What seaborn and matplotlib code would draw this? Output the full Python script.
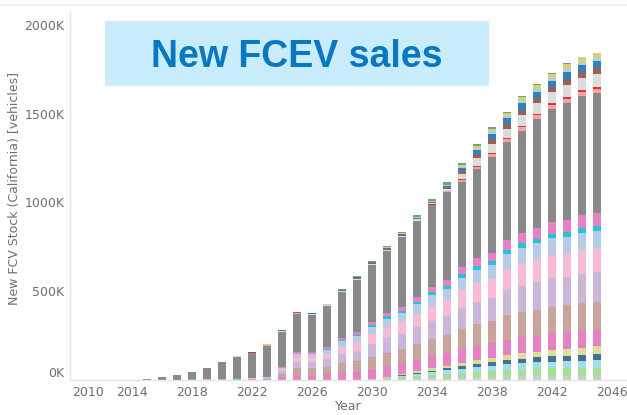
import numpy as np
import pandas as pd
import matplotlib
matplotlib.use("Agg")
import matplotlib.pyplot as plt
from matplotlib.patches import Rectangle
from matplotlib.ticker import FuncFormatter
import seaborn as sns

# Data (thousand vehicles), years 2010-2045, stack order bottom -> top
years = list(range(2010, 2046))

z5, z6, z20 = [0] * 5, [0] * 6, [0] * 20

lgray_bot = z20 + [3, 5, 7, 9, 11, 13, 15, 17, 19, 21, 22, 23, 24, 25, 25, 26]
lgreen = z20 + [3, 6, 9, 13, 17, 21, 25, 29, 32, 35, 37, 39, 41, 42, 43, 44]
lteal = z20 + [0, 4, 8, 12, 16, 20, 24, 27, 30, 33, 35, 37, 38, 39, 40, 41]
navy = z20 + [0, 0, 3, 6, 9, 12, 15, 18, 21, 24, 26, 28, 30, 31, 32, 33]
lolive = z20 + [2, 4, 6, 9, 12, 15, 18, 21, 24, 27, 30, 33, 36, 39, 42, 45]

magenta = z5 + [.2, .3, .6, .8, 1.3, 1.8, 2.3, 3, 4, 16, 30, 30, 34, 42, 46, 53, 58, 60, 65, 70,
                72, 78, 82, 82, 88, 90, 91, 93, 93, 94, 95]
brownpink = z5 + [.1, .2, .4, .6, 1, 1.4, 1.8, 2.5, 3.5, 16, 35, 35, 41, 52, 59, 69, 77, 81, 89, 97,
                  101, 113, 120, 123, 136, 142, 146, 151, 152, 156, 157]
lavender = z5 + [.1, .2, .4, .6, 1, 1.4, 1.8, 2.5, 3.5, 16, 35, 35, 41, 52, 60, 71, 80, 84, 93, 102,
                 107, 119, 127, 130, 143, 150, 154, 159, 160, 164, 165]
pink = z5 + [.1, .2, .3, .5, .8, 1.2, 1.5, 2, 3, 12, 27, 27, 33, 42, 49, 58, 66, 70, 77, 85,
             89, 100, 107, 110, 121, 126, 130, 134, 135, 139, 140]
lblue = z5 + [0, .1, .2, .3, .5, .7, 1, 1.2, 2, 8, 18, 18, 22, 29, 34, 41, 46, 49, 55, 60,
              63, 70, 74, 76, 83, 87, 89, 92, 92, 94, 95]
teal = z5 + [0, 0, .1, .1, .2, .2, .3, .4, .5, 2, 4, 4, 5, 7, 8, 10, 12, 12, 14, 16,
             17, 19, 21, 22, 24, 25, 26, 27, 27, 28, 28]
magenta2 = z5 + [0, 0, 0, .1, .2, .3, .3, .4, .5, 3, 8, 8, 9, 12, 14, 16, 19, 21, 24, 28,
                 32, 39, 43, 45, 52, 56, 58, 63, 64, 70, 70]

gray = [0, 0, .5, 1, 2, 4.5, 13.5, 25, 42.5, 62, 93, 122, 142, 177, 198, 217, 208, 230, 259, 292,
        320, 348, 393, 427, 461, 495, 480, 500, 540, 551, 579, 618, 641, 663, 674, 680]

salmon = z6 + [.1, .2, .3, .4, .5, .7, .8, 1, 1.5, 1.5, 2, 2, 2, 3, 3, 3, 3, 3, 3, 5,
               10, 14, 17, 17, 19, 19, 20, 22, 22, 22]
red = z6 + [0, .1, .1, .1, .2, .2, .3, .3, .5, .5, 1, .5, 1, 1, 1, 1, 1, 2, 2, 3,
            5, 7, 8, 8, 9, 9, 10, 11, 11, 11]
lgray_top = z6 + [.2, .3, .5, .6, 1, 1.3, 1.5, 1.8, 3, 3, 4, 3, 4, 5, 5, 6, 6, 7, 7, 12,
                  30, 42, 52, 53, 61, 61, 62, 69, 68, 70]
brown = z6 + [.1, .2, .2, .3, .4, .5, .7, .8, 1.5, 1.5, 2, 2, 2, 3, 3, 3, 3, 4, 4, 7,
              15, 22, 26, 26, 29, 29, 30, 33, 32, 34]
blue = z6 + [.1, .2, .3, .4, .6, .8, 1, 1.2, 2, 2, 3, 2, 3, 4, 4, 5, 5, 5, 5, 9,
             20, 26, 31, 32, 35, 35, 36, 39, 38, 39]
lblue_top = z6 + [0, 0, .1, .1, .2, .3, .4, .4, .7, .7, 1, 1, 1, 1, 1, 2, 2, 2, 2, 3,
                  7, 10, 12, 12, 14, 14, 15, 16, 16, 17]
olive = z6 + [0, 0, 0, .1, .1, .2, .3, .5, .8, .8, 1, 1, 1, 2, 2, 3, 3, 3, 3, 5,
              8, 12, 16, 17, 22, 23, 24, 30, 29, 28]
green = z6 + [0, 0, 0, 0, 0, 0, 0, 0, 0, 0, 1, .5, 2, 3, 4, 5, 6, 8, 7, 12,
              15, 13, 11, 9, 8, 7, 5, 5, 4, 3]

layers = [
    ("s01", lgray_bot, "#c7c7c7"), ("s02", lgreen, "#98df8a"), ("s03", lteal, "#9edae5"),
    ("s04", navy, "#2f6690"), ("s05", lolive, "#dbdb8d"), ("s06", magenta, "#e377c2"),
    ("s07", brownpink, "#c49c94"), ("s08", lavender, "#c5b0d5"), ("s09", pink, "#f7b6d2"),
    ("s10", lblue, "#aec7e8"), ("s11", teal, "#17becf"), ("s12", magenta2, "#e377c2"),
    ("s13", gray, "#7f7f7f"), ("s14", salmon, "#ff9896"), ("s15", red, "#d62728"),
    ("s16", lgray_top, "#d9d9d9"), ("s17", brown, "#8c564b"), ("s18", blue, "#1f77b4"),
    ("s19", lblue_top, "#aec7e8"), ("s20", olive, "#cfcf6e"), ("s21", green, "#6a9f58"),
]

names = [n for n, _, _ in layers]
df = pd.DataFrame({
    "year": np.tile(years, len(layers)),
    "segment": np.repeat(names, len(years)),
    "stock": np.concatenate([np.asarray(v, dtype=float) for _, v, _ in layers]),
})
palette = {n: c for n, _, c in layers}

sns.set_style("white")
fig = plt.figure(figsize=(6.27, 4.15), dpi=100)
ax = fig.add_axes([70 / 627, 35 / 415, 557 / 627, 368 / 415])

sns.histplot(data=df, x="year", weights="stock", hue="segment",
             hue_order=names[::-1], palette=palette, multiple="stack",
             discrete=True, shrink=0.56, linewidth=0, alpha=0.92,
             legend=False, ax=ax)

ax.set_xlim(2009.87, 2047)
ax.set_ylim(0, 2073)
txt = "#6e6e6e"
ax.set_xticks([2010, 2014, 2018, 2022, 2026, 2030, 2034, 2038, 2042, 2046])
ax.set_yticks([0, 500, 1000, 1500, 2000])
ax.yaxis.set_major_formatter(FuncFormatter(lambda v, p: f"{int(v)}K"))
ax.tick_params(length=0, labelsize=9, colors=txt, pad=4)
ax.get_xticklabels()[0].set_ha("left")
ax.get_yticklabels()[0].set_va("bottom")
ax.set_xlabel("Year", fontsize=9, color=txt, labelpad=1)
ax.set_ylabel("New FCV Stock (California) [vehicles]", fontsize=9, color=txt)
ax.yaxis.set_label_coords(-0.088, 0.52)

for s in ["top", "right"]:
    ax.spines[s].set_visible(False)
for s in ["left", "bottom"]:
    ax.spines[s].set_color("#e4e4e4")
    ax.spines[s].set_linewidth(1)

# faint frame line at the top of the view
fig.patches.append(Rectangle((0, 1 - 6 / 415), 1, 2 / 415, transform=fig.transFigure,
                             facecolor="#f3f3f3", edgecolor="none"))

# title box
fig.patches.append(Rectangle((105 / 627, 1 - 86 / 415), 384 / 627, 65 / 415,
                             transform=fig.transFigure, facecolor="#c8ecfc",
                             edgecolor="none", zorder=5))
fig.text(297 / 627, 1 - 67 / 415, "New FCEV sales", ha="center", va="baseline",
         fontsize=27, fontweight="bold", color="#0a78c1",
         family="Liberation Sans", zorder=6)

fig.savefig("out.png", dpi=100)
